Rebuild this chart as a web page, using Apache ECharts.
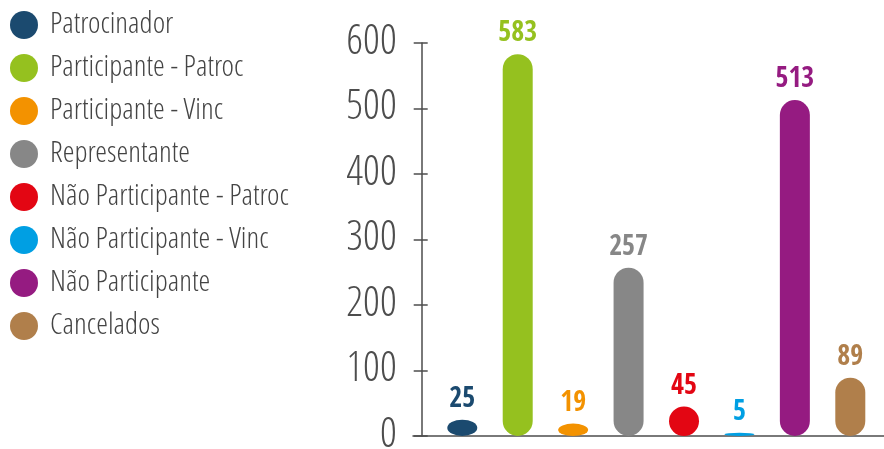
<!DOCTYPE html>
<html>
<head>
<meta charset="utf-8">
<script src="https://cdn.jsdelivr.net/npm/echarts@6/dist/echarts.min.js"></script>
<style>
html,body{margin:0;padding:0;background:#fff;}
#chart{width:884px;height:449px;}
</style>
</head>
<body>
<div id="chart"></div>
<script>
const categories = ['Patrocinador', 'Participante - Patroc', 'Participante - Vinc', 'Representante', 'Não Participante - Patroc', 'Não Participante - Vinc', 'Não Participante', 'Cancelados'];
const values = [25, 583, 19, 257, 45, 5, 513, 89];
const colors = ['#1b4a6f', '#95c11f', '#f39200', '#878787', '#e30613', '#009fe3', '#951b81', '#b07f4b'];
const yMin = 0, yMax = 600, yInterval = 100;

const LIGHT = '"Open Sans Condensed Light", "Open Sans", sans-serif';
const BOLD = '"Open Sans Condensed", "Open Sans", sans-serif';
const BAR_W = 30;

function renderItem(params, api) {
  const x = api.value(0), v = api.value(1);
  const top = api.coord([x, v]);
  const base = api.coord([x, 0]);
  const color = api.visual('color');
  const cx = top[0];
  const h = base[1] - top[1];
  const r = BAR_W / 2;
  let d;
  if (h >= BAR_W) {
    d = `M${cx - r},${base[1] - r} L${cx - r},${top[1] + r} A${r},${r} 0 0 1 ${cx + r},${top[1] + r} L${cx + r},${base[1] - r} A${r},${r} 0 0 1 ${cx - r},${base[1] - r} Z`;
  } else {
    const ry = h / 2, cy = (top[1] + base[1]) / 2;
    d = `M${cx - r},${cy} A${r},${ry} 0 1 1 ${cx + r},${cy} A${r},${ry} 0 1 1 ${cx - r},${cy} Z`;
  }
  return {
    type: 'group',
    children: [
      { type: 'path', shape: { pathData: d }, style: { fill: color } },
      { type: 'text', style: { text: String(v), x: cx, y: top[1] - 6, align: 'center', verticalAlign: 'bottom', fill: color, font: 'bold 28px ' + BOLD } }
    ]
  };
}

const chart = echarts.init(document.getElementById('chart'), null, { renderer: 'canvas' });
chart.setOption({
  animation: false,
  legend: {
    orient: 'vertical', left: 5, top: 5, itemGap: 13,
    icon: 'circle', itemWidth: 28, itemHeight: 28,
    selectedMode: false,
    textStyle: { fontSize: 30, lineHeight: 28, color: '#444', fontFamily: LIGHT, padding: [0, 0, 0, 7] },
    data: categories
  },
  grid: { left: 413, right: 0, top: 43, bottom: 13, containLabel: false, outerBoundsMode: 'none' },
  xAxis: {
    type: 'value', min: -0.889, max: 7.608,
    axisLine: { show: true, lineStyle: { color: '#4d4d4d', width: 1.5 } },
    axisTick: { show: false }, axisLabel: { show: false }, splitLine: { show: false }
  },
  yAxis: [{
    type: 'value', position: 'left', offset: -8.7,
    min: yMin, max: yMax, interval: yInterval,
    axisLine: { show: true, onZero: false, lineStyle: { color: '#4d4d4d', width: 1.5 } },
    axisTick: { show: true, inside: false, length: 8, lineStyle: { color: '#4d4d4d', width: 1.5 } },
    axisLabel: { margin: 25, fontSize: 42, color: '#4d4d4d', fontFamily: LIGHT },
    splitLine: { show: false }
  }, {
    type: 'value', position: 'left', offset: -8.7,
    min: yMin, max: yMax, interval: yInterval,
    axisLine: { show: false, onZero: false },
    axisTick: { show: true, inside: true, length: 6, lineStyle: { color: '#4d4d4d', width: 1.5 } },
    axisLabel: { show: false },
    splitLine: { show: false }
  }],
  series: categories.map((name, i) => ({
    name: name,
    type: 'custom',
    renderItem: renderItem,
    itemStyle: { color: colors[i] },
    encode: { x: 0, y: 1 },
    data: [[i, values[i]]]
  }))
});
</script>
</body>
</html>
